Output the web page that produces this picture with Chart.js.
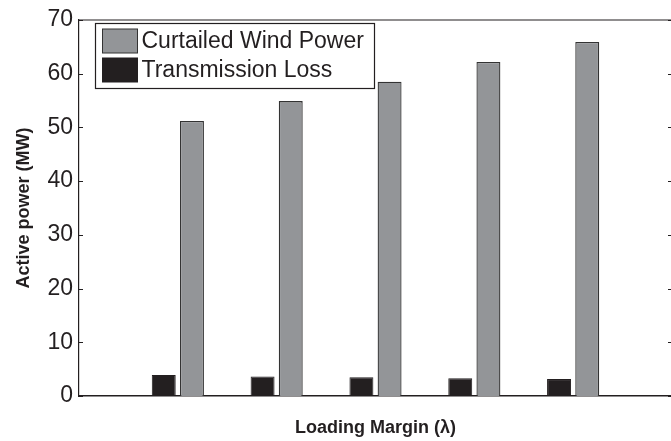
<!DOCTYPE html>
<html>
<head>
<meta charset="utf-8">
<script src="https://cdn.jsdelivr.net/npm/chart.js@4.4.1/dist/chart.umd.min.js"></script>
<style>
  html, body { margin: 0; padding: 0; background: #fff; overflow: hidden; width: 671px; height: 441px; }
  #c { position: absolute; left: 0; top: 0; }
</style>
</head>
<body>
<canvas id="c" width="674" height="441"></canvas>
<script>
// x positions (xlim 0..6, bars at 1..5)
const categories = ['0', '1', '2', '3', '4', '5', '6'];
const transmissionLoss = [null, 3.9, 3.65, 3.5, 3.3, 3.15, null];
const curtailedWind = [null, 51.2, 54.9, 58.5, 62.2, 65.9, null];
const yTicks = [0, 10, 20, 30, 40, 50, 60, 70];

const FONT = '"Liberation Sans", Arial, Helvetica, sans-serif';
const INK = '#231f20';

const frameAndTicks = {
  id: 'frameAndTicks',
  afterDatasetsDraw(chart) {
    const { ctx, chartArea: a } = chart;
    const y = chart.scales.y;
    ctx.save();
    ctx.strokeStyle = INK;
    ctx.lineWidth = 1.2;
    ctx.beginPath();
    ctx.moveTo(a.left, a.top); ctx.lineTo(a.right, a.top);
    ctx.moveTo(a.right, a.top); ctx.lineTo(a.right, a.bottom);
    ctx.stroke();
    ctx.lineWidth = 1;
    ctx.beginPath();
    yTicks.forEach(v => {
      const py = Math.round(y.getPixelForValue(v)) + 0.5;
      ctx.moveTo(a.left, py); ctx.lineTo(a.left + 4, py);
      ctx.moveTo(a.right, py); ctx.lineTo(a.right - 4, py);
    });
    ctx.stroke();

    // legend box (inside plot, top-left)
    const bx = a.left + 16.5, by = a.top + 3.5, bw = 279, bh = 65;
    ctx.fillStyle = '#fff';
    ctx.fillRect(bx, by, bw, bh);
    ctx.strokeStyle = INK;
    ctx.lineWidth = 1.2;
    ctx.strokeRect(bx, by, bw, bh);
    const items = [chart.data.datasets[1], chart.data.datasets[0]];
    items.forEach((ds, i) => {
      const sy = by + 5.5 + i * 29;
      ctx.fillStyle = ds.backgroundColor;
      ctx.fillRect(bx + 7, sy, 35, 24);
      ctx.strokeStyle = ds.borderColor;
      ctx.lineWidth = 1;
      ctx.strokeRect(bx + 7, sy, 35, 24);
      ctx.fillStyle = INK;
      ctx.font = '23px ' + FONT;
      ctx.textBaseline = 'middle';
      ctx.textAlign = 'left';
      ctx.fillText(ds.label, bx + 46, sy + 13);
    });
    ctx.restore();
  }
};

new Chart(document.getElementById('c'), {
  type: 'bar',
  data: {
    labels: categories,
    datasets: [
      {
        label: 'Transmission Loss',
        data: transmissionLoss,
        backgroundColor: INK,
        borderColor: INK,
        borderWidth: 1,
        categoryPercentage: 0.57,
        barPercentage: 0.85
      },
      {
        label: 'Curtailed Wind Power',
        data: curtailedWind,
        backgroundColor: '#939598',
        borderColor: '#333333',
        borderWidth: 1.3,
        categoryPercentage: 0.57,
        barPercentage: 0.85
      }
    ]
  },
  options: {
    responsive: false,
    animation: false,
    devicePixelRatio: 1,
    layout: { padding: { top: 20, right: 2, left: 0, bottom: 0 } },
    plugins: { legend: { display: false }, tooltip: { enabled: false } },
    scales: {
      x: {
        offset: false,
        grid: { display: false, drawTicks: false },
        border: { display: true, color: INK, width: 1.5 },
        ticks: { display: false },
        title: {
          display: true,
          text: 'Loading Margin (λ)',
          color: INK,
          font: { family: FONT, size: 18, weight: 'bold' },
          padding: { top: 0, bottom: 2 }
        },
        afterFit(s) { s.height = 45; }
      },
      y: {
        min: 0,
        max: 70,
        afterBuildTicks(s) { s.ticks = yTicks.map(v => ({ value: v })); },
        grid: { display: false, drawTicks: false },
        border: { display: true, color: INK, width: 1.2 },
        ticks: {
          color: INK,
          padding: 6,
          font: { family: FONT, size: 23 }
        },
        title: {
          display: true,
          text: 'Active power (MW)',
          color: INK,
          font: { family: FONT, size: 18, weight: 'bold' },
          padding: { top: 13, bottom: 0 }
        },
        afterFit(s) { s.width = 79; }
      }
    }
  },
  plugins: [frameAndTicks]
});
</script>
</body>
</html>
